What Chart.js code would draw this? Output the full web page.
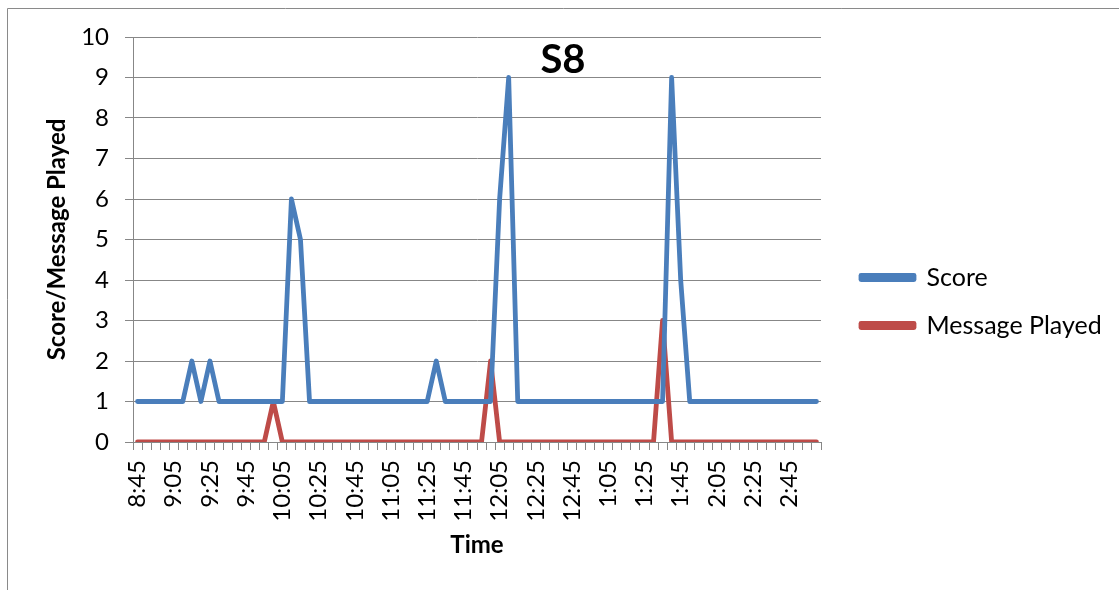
<!DOCTYPE html>
<html>
<head>
<meta charset="utf-8">
<script src="https://cdn.jsdelivr.net/npm/chart.js@4"></script>
<style>
  body { margin: 0; background: #fff; }
  #wrap { width: 1119px; height: 590px; }
</style>
</head>
<body>
<div id="wrap"><canvas id="myChart" width="1119" height="590"></canvas></div>
<script>
// time of day, every 5 minutes
var times = ['8:45','8:50','8:55',
  '9:00','9:05','9:10','9:15','9:20','9:25','9:30','9:35','9:40','9:45','9:50','9:55',
  '10:00','10:05','10:10','10:15','10:20','10:25','10:30','10:35','10:40','10:45','10:50','10:55',
  '11:00','11:05','11:10','11:15','11:20','11:25','11:30','11:35','11:40','11:45','11:50','11:55',
  '12:00','12:05','12:10','12:15','12:20','12:25','12:30','12:35','12:40','12:45','12:50','12:55',
  '1:00','1:05','1:10','1:15','1:20','1:25','1:30','1:35','1:40','1:45','1:50','1:55',
  '2:00','2:05','2:10','2:15','2:20','2:25','2:30','2:35','2:40','2:45','2:50','2:55',
  '3:00'];

var score = [1,1,1,1,1,1,2,1,2,1,
  1,1,1,1,1,1,1,6,5,1,
  1,1,1,1,1,1,1,1,1,1,
  1,1,1,2,1,1,1,1,1,1,
  6,9,1,1,1,1,1,1,1,1,
  1,1,1,1,1,1,1,1,1,9,
  4,1,1,1,1,1,1,1,1,1,
  1,1,1,1,1,1];

var messagePlayed = [0,0,0,0,0,0,0,0,0,0,
  0,0,0,0,0,1,0,0,0,0,
  0,0,0,0,0,0,0,0,0,0,
  0,0,0,0,0,0,0,0,0,2,
  0,0,0,0,0,0,0,0,0,0,
  0,0,0,0,0,0,0,0,3,0,
  0,0,0,0,0,0,0,0,0,0,
  0,0,0,0,0,0];

var chartTitle = 'S8';
var grey = '#878787';
var fontName = 'Lato';

// frame lines, legend placement and the big title over the plot
var extras = {
  id: 'extras',
  beforeLayout: function(chart) {
    var lg = chart.legend;
    if (lg && !lg._patched) {
      var fit = lg.fit;
      lg.fit = function() {
        fit.call(this);
        this.width = 298;
      };
      lg._patched = true;
    }
  },
  afterLayout: function(chart) {
    var lg = chart.legend;
    lg.left += 17;
    lg.top -= 12;
    lg.bottom -= 12;
  },
  beforeDraw: function(chart) {
    var ctx = chart.ctx;
    ctx.save();
    ctx.strokeStyle = '#8a8a8a';
    ctx.lineWidth = 1;
    ctx.beginPath();
    ctx.moveTo(7.5, 590);
    ctx.lineTo(7.5, 8.5);
    ctx.lineTo(1119, 8.5);
    ctx.stroke();
    ctx.restore();
  },
  afterDraw: function(chart) {
    var ctx = chart.ctx;
    ctx.save();
    ctx.font = 'bold 40px ' + fontName;
    ctx.fillStyle = '#000';
    ctx.textAlign = 'center';
    ctx.textBaseline = 'middle';
    ctx.fillText(chartTitle, 563, 60);
    ctx.restore();
  }
};

var ctx = document.getElementById('myChart');
var myChart = new Chart(ctx, {
  type: 'line',
  data: {
    labels: times,
    datasets: [{
      label: 'Score',
      data: score,
      borderColor: '#4a7ebb',
      backgroundColor: '#4a7ebb',
      borderWidth: 4.8,
      pointRadius: 0,
      tension: 0,
      borderJoinStyle: 'round',
      borderCapStyle: 'round'
    }, {
      label: 'Message Played',
      data: messagePlayed,
      borderColor: '#be4b48',
      backgroundColor: '#be4b48',
      borderWidth: 4.8,
      pointRadius: 0,
      tension: 0,
      borderJoinStyle: 'round',
      borderCapStyle: 'round'
    }]
  },
  options: {
    responsive: false,
    animation: false,
    layout: { padding: { left: 0, top: 37, right: 0, bottom: 0 } },
    plugins: {
      legend: {
        position: 'right',
        labels: {
          boxWidth: 53,
          boxHeight: 4,
          padding: 23,
          color: '#000',
          font: { family: fontName, size: 25 }
        }
      },
      tooltip: { enabled: false }
    },
    scales: {
      x: {
        offset: true,
        afterFit: function(s) { s.height = 148; },
        grid: {
          offset: true,
          drawOnChartArea: false,
          color: grey,
          tickLength: 8
        },
        border: { color: grey },
        ticks: {
          autoSkip: false,
          minRotation: 90,
          maxRotation: 90,
          padding: 10,
          color: '#000',
          font: { family: fontName, size: 24 },
          callback: function(v, i) { return i % 4 === 0 ? times[i] : ''; }
        },
        title: {
          display: true,
          text: 'Time',
          color: '#000',
          font: { family: fontName, size: 24, weight: 'bold' },
          padding: { top: 10, bottom: 30 }
        }
      },
      y: {
        min: 0,
        max: 10,
        afterFit: function(s) { s.width = 133; },
        grid: { color: grey, tickLength: 8 },
        border: { color: grey },
        ticks: {
          stepSize: 1,
          padding: 16,
          color: '#000',
          font: { family: fontName, size: 24 }
        },
        title: {
          display: true,
          text: 'Score/Message Played',
          color: '#000',
          font: { family: fontName, size: 24, weight: 'bold' },
          padding: { top: 43, bottom: 10 }
        }
      }
    }
  },
  plugins: [extras]
});
</script>
</body>
</html>
